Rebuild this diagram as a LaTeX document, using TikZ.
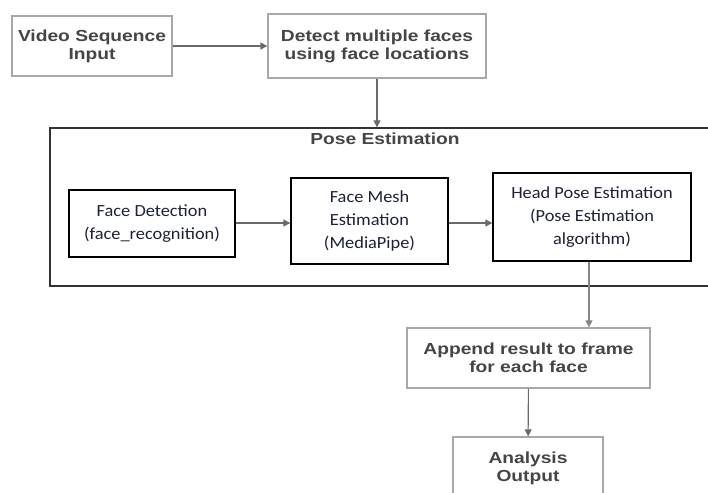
\documentclass[tikz,border=0pt]{standalone}
\usepackage{fontspec}
\usepackage{xcolor}
\usetikzlibrary{positioning,calc,arrows.meta}
\newfontfamily\headfont{Liberation Sans}[FakeStretch=1.2]
\newfontfamily\stepfont{Carlito}[FakeStretch=1.08]
\definecolor{TextGrey}{HTML}{454545}
\definecolor{LineGrey}{HTML}{A8A8A8}
\definecolor{ArrowGrey}{HTML}{6A6A6A}
\definecolor{InkBlue}{HTML}{1E2238}

\begin{document}
\begin{tikzpicture}[x=1pt, y=-1pt,
      outer/.style = {rectangle, draw=LineGrey, line width=1.3pt, fill=white,
        align=center, inner sep=0pt, text=TextGrey,
        font=\headfont\bfseries\fontsize{16}{18}\selectfont},
      inner/.style = {rectangle, draw=black, line width=1.3pt, fill=white,
        align=center, inner sep=0pt, text=InkBlue,
        font=\stepfont\fontsize{17}{23}\selectfont},
      arrow/.style = {line width=1.1pt, draw=ArrowGrey,
        -{Triangle[length=7pt,width=7pt]}}
    ]
    \useasboundingbox (0,0) rectangle (708,492);
    \clip (0,0) rectangle (708,492);
    \node (A) [outer, minimum width=160pt, minimum height=60pt] at (92,46)
      {Video Sequence\\Input};
    \node (B) [outer, minimum width=218pt, minimum height=64pt] at (377,46)
      {Detect multiple faces\\using face locations};
    \node (P) [rectangle, draw=black!80, line width=1.3pt,
      minimum width=664pt, minimum height=158pt] at (382,207) {};
    \node (T) [text=TextGrey, font=\headfont\bfseries\fontsize{16}{18}\selectfont]
      at (385,139) {Pose Estimation};
    \node (C) [inner, minimum width=166pt, minimum height=67pt] at (152,223.5)
      {Face Detection\\(face\_recognition)};
    \node (E) [inner, minimum width=157pt, minimum height=86pt] at (369.5,221)
      {Face Mesh\\Estimation\\(MediaPipe)};
    \node (H) [inner, minimum width=198pt, minimum height=88pt] at (592,217)
      {Head Pose Estimation\\(Pose Estimation\\algorithm)};
    \node (K) [outer, minimum width=243pt, minimum height=60pt] at (528.5,358)
      {Append result to frame\\for each face};
    \node (L) [outer, minimum width=150pt, minimum height=62pt] at (528,468)
      {Analysis\\Output};
    \draw [arrow] (A) -- (B);
    \draw [arrow] (B) -- (B |- P.north);
    \draw [arrow] (C.east |- 0,223) -- (E.west |- 0,223);
    \draw [arrow] (E.east |- 0,223) -- (H.west |- 0,223);
    \draw [arrow, draw=LineGrey!80!black] ([xshift=-3pt]H.south) -- ([xshift=-3pt]H.south |- K.north);
    \draw [arrow] (K) -- (L);
  \end{tikzpicture}
\end{document}
